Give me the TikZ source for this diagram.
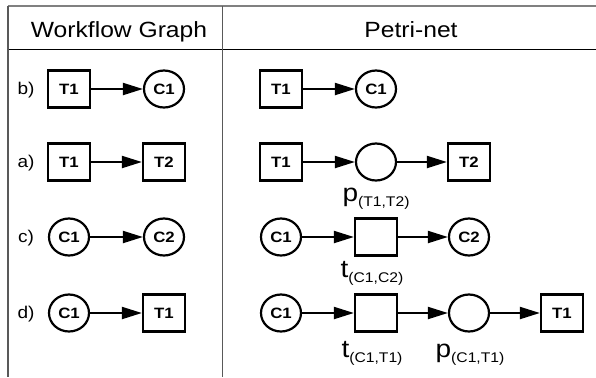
\documentclass[tikz,border=0pt]{standalone}
\usepackage{fontspec}
\setmainfont{Liberation Sans}[FakeStretch=1.12]
\usepackage{tikz}
\usetikzlibrary{arrows.meta,shapes.geometric}
\newcommand{\petrilbl}[2]{#1\raisebox{-2.5pt}{\fontsize{7}{8}\selectfont#2}}

\begin{document}
\begin{tikzpicture}[x=0.5pt,y=-0.5pt,
  trans/.style={draw,line width=1.1pt,minimum width=21pt,minimum height=18.5pt,inner sep=0pt,font=\fontsize{7.5}{8}\selectfont\bfseries},
  cond/.style={ellipse,draw,line width=1.1pt,minimum width=20pt,minimum height=18.5pt,inner sep=0pt,font=\fontsize{7.5}{8}\selectfont\bfseries},
  flow/.style={line width=1pt,-{Triangle[length=10pt,width=6pt]}},
  rowlbl/.style={font=\fontsize{8.5}{10}\selectfont},
  head/.style={anchor=base,font=\fontsize{11}{13}\selectfont},
  lbl/.style={anchor=base,inner sep=0pt,font=\fontsize{12.5}{14}\selectfont}]
\useasboundingbox (0,0) rectangle (596,377);
% table lines
\draw[gray,line width=0.9pt] (8,6) -- (596,6);
\draw[line width=0.5pt] (8,49) -- (596,49);
\draw[gray!70!black,line width=0.5pt] (8,6) -- (8,377) (222,6) -- (222,377);
\node[head] (hwf) at (119,37) {Workflow Graph};
\node[head] (hpn) at (411,37) {Petri-net};
% row labels
\node[rowlbl] (rb) at (26,90) {b)};
\node[rowlbl] (ra) at (26,163) {a)};
\node[rowlbl] (rc) at (26,238) {c)};
\node[rowlbl] (rd) at (26,314) {d)};
% workflow graph
\node[trans] (wbT1) at (69,89) {T1};
\node[cond]  (wbC1) at (164,89) {C1};
\node[trans] (waT1) at (69,162) {T1};
\node[trans] (waT2) at (164,162) {T2};
\node[cond]  (wcC1) at (69,237) {C1};
\node[cond]  (wcC2) at (164,237) {C2};
\node[cond]  (wdC1) at (69,313) {C1};
\node[trans] (wdT1) at (164,313) {T1};
% petri-net
\node[trans] (pbT1) at (281,89) {T1};
\node[cond]  (pbC1) at (376,89) {C1};
\node[trans] (paT1) at (281,162) {T1};
\node[cond]  (paP)  at (376,162) {};
\node[trans] (paT2) at (469,162) {T2};
\node[cond]  (pcC1) at (281,237) {C1};
\node[trans] (pcT)  at (376,237) {};
\node[cond]  (pcC2) at (469,237) {C2};
\node[cond]  (pdC1) at (281,313) {C1};
\node[trans] (pdT)  at (376,313) {};
\node[cond]  (pdP)  at (469,313) {};
\node[trans] (pdT1) at (562,313) {T1};
\node[lbl] (lpa) at (376,201) {\petrilbl{p}{(T1,T2)}};
\node[lbl] (ltc) at (372,277) {\petrilbl{t}{(C1,C2)}};
\node[lbl] (ltd) at (372,357) {\petrilbl{t}{(C1,T1)}};
\node[lbl] (lpd) at (470,357) {\petrilbl{p}{(C1,T1)}};
\foreach \from/\to in {wbT1/wbC1,waT1/waT2,wcC1/wcC2,wdC1/wdT1,pbT1/pbC1,paT1/paP,paP/paT2,pcC1/pcT,pcT/pcC2,pdC1/pdT,pdT/pdP,pdP/pdT1}
\draw[flow] (\from) -- (\to);
\end{tikzpicture}
\end{document}
